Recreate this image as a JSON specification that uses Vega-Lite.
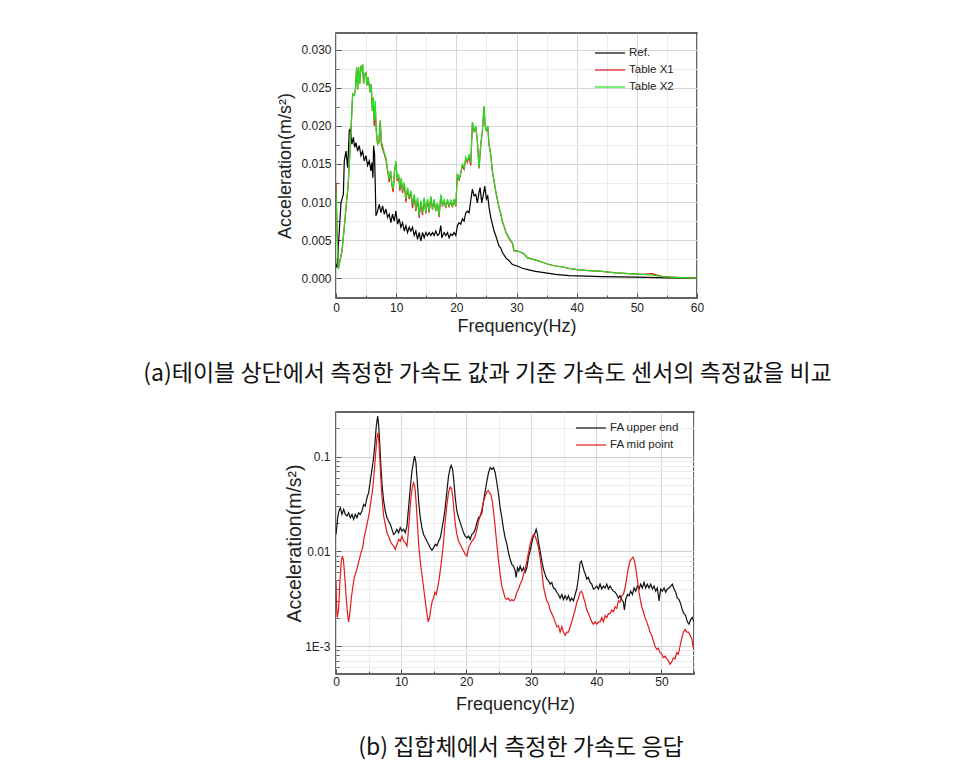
{
"$schema":"https://vega.github.io/schema/vega-lite/v6.json",
"background":"white",
"padding":{"left":142,"top":32,"right":5,"bottom":5},
"bounds":"flush",
"spacing":114,
"resolve":{"scale":{"color":"independent","x":"independent","y":"independent"},"legend":{"color":"independent"}},
"config":{
 "view":{"stroke":"#333","strokeWidth":1.5},
 "axis":{"domain":false,"labelFont":"Liberation Sans","labelFontSize":12,"labelColor":"#222","titleFont":"Liberation Sans","titleFontWeight":"normal","titleColor":"#222","tickColor":"#555","gridWidth":1},
 "legend":{"symbolType":"M-3,0H3","symbolSize":100,"symbolStrokeWidth":1.5,"labelFont":"Liberation Sans","labelFontSize":11.5,"labelColor":"#222","rowPadding":5,"labelOffset":13,"padding":0},
 "line":{"strokeWidth":1.2}
},
"datasets":{
 "aref":[
{"f":0,"v":0.0018},{"f":0.17,"v":0.0014},{"f":0.55,"v":0.0062},{"f":0.83,"v":0.0099},{"f":1.22,"v":0.011},{"f":1.38,"v":0.0154},{"f":1.66,"v":0.0167},{"f":1.94,"v":0.0145},{"f":2.21,"v":0.0194},{"f":2.38,"v":0.0196},{"f":2.65,"v":0.0176},{"f":2.88,"v":0.0185},{"f":3.1,"v":0.0172},{"f":3.32,"v":0.0178},{"f":3.59,"v":0.0167},{"f":3.87,"v":0.0174},{"f":4.15,"v":0.0161},{"f":4.42,"v":0.0167},{"f":4.7,"v":0.0154},{"f":4.98,"v":0.0161},{"f":5.25,"v":0.0148},{"f":5.53,"v":0.0154},{"f":5.81,"v":0.0141},{"f":5.97,"v":0.0152},{"f":6.14,"v":0.0132},{"f":6.25,"v":0.0174},{"f":6.41,"v":0.0163},{"f":6.64,"v":0.0082},{"f":6.91,"v":0.0088},{"f":7.19,"v":0.0097},{"f":7.47,"v":0.0086},{"f":7.74,"v":0.0095},{"f":8.02,"v":0.0084},{"f":8.29,"v":0.0091},{"f":8.57,"v":0.008},{"f":8.85,"v":0.0084},{"f":9.12,"v":0.0073},{"f":9.4,"v":0.0084},{"f":9.68,"v":0.0075},{"f":9.95,"v":0.0088},{"f":10.23,"v":0.0071},{"f":10.51,"v":0.0078},{"f":10.78,"v":0.0067},{"f":11.06,"v":0.0073},{"f":11.34,"v":0.0062},{"f":11.61,"v":0.0069},{"f":11.89,"v":0.006},{"f":12.17,"v":0.0067},{"f":12.44,"v":0.0062},{"f":12.72,"v":0.0067},{"f":13,"v":0.0056},{"f":13.27,"v":0.0062},{"f":13.55,"v":0.0051},{"f":13.83,"v":0.006},{"f":14.1,"v":0.0049},{"f":14.38,"v":0.006},{"f":14.65,"v":0.0053},{"f":14.93,"v":0.006},{"f":15.21,"v":0.0056},{"f":15.48,"v":0.006},{"f":15.76,"v":0.0056},{"f":16.04,"v":0.006},{"f":16.31,"v":0.0056},{"f":16.59,"v":0.0062},{"f":16.87,"v":0.0056},{"f":17.14,"v":0.0058},{"f":17.42,"v":0.0069},{"f":17.59,"v":0.0053},{"f":17.97,"v":0.006},{"f":18.25,"v":0.0056},{"f":18.53,"v":0.006},{"f":18.8,"v":0.0053},{"f":19.08,"v":0.0058},{"f":19.36,"v":0.0056},{"f":19.63,"v":0.006},{"f":19.91,"v":0.0056},{"f":20.18,"v":0.0069},{"f":20.46,"v":0.0073},{"f":20.74,"v":0.0071},{"f":21.01,"v":0.0078},{"f":21.29,"v":0.0075},{"f":21.57,"v":0.0086},{"f":21.84,"v":0.0088},{"f":22.12,"v":0.0086},{"f":22.4,"v":0.0102},{"f":22.67,"v":0.0117},{"f":22.95,"v":0.0108},{"f":23.23,"v":0.011},{"f":23.5,"v":0.0099},{"f":23.78,"v":0.0113},{"f":23.95,"v":0.0119},{"f":24.22,"v":0.0099},{"f":24.5,"v":0.011},{"f":24.72,"v":0.0121},{"f":25,"v":0.0104},{"f":25.22,"v":0.0108},{"f":25.44,"v":0.0093},{"f":25.72,"v":0.008},{"f":25.99,"v":0.0071},{"f":26.27,"v":0.0062},{"f":26.54,"v":0.0056},{"f":26.82,"v":0.0049},{"f":27.1,"v":0.0042},{"f":27.37,"v":0.004},{"f":27.65,"v":0.0034},{"f":28.2,"v":0.0027},{"f":28.76,"v":0.0023},{"f":29.31,"v":0.0018},{"f":30.14,"v":0.0016},{"f":30.97,"v":0.0013},{"f":32.07,"v":0.0011},{"f":33.18,"v":0.0009},{"f":34.84,"v":0.0007},{"f":36.5,"v":0.0005},{"f":38.71,"v":0.00035},{"f":41.48,"v":0.00026},{"f":44.24,"v":0.0002},{"f":49.77,"v":0.00013},{"f":55.3,"v":0.00004},{"f":60,"v":0}
 ],
 "atab":[
{"f":0,"Table X1":0.0126,"Table X2":0.0115},{"f":0.17,"Table X1":0.007,"Table X2":0.0062},{"f":0.39,"Table X1":0.0012,"Table X2":0.0012},{"f":0.66,"Table X1":0.0023,"Table X2":0.0023},{"f":1,"Table X1":0.0036,"Table X2":0.0036},{"f":1.38,"Table X1":0.0067,"Table X2":0.0067},{"f":1.77,"Table X1":0.0102,"Table X2":0.0102},{"f":1.99,"Table X1":0.0119,"Table X2":0.0119},{"f":2.21,"Table X1":0.015,"Table X2":0.015},{"f":2.49,"Table X1":0.0194,"Table X2":0.0194},{"f":2.77,"Table X1":0.0242,"Table X2":0.0242},{"f":3.04,"Table X1":0.024,"Table X2":0.024},{"f":3.21,"Table X1":0.0246,"Table X2":0.0246},{"f":3.43,"Table X1":0.0277,"Table X2":0.0277},{"f":3.59,"Table X1":0.0248,"Table X2":0.0248},{"f":3.76,"Table X1":0.0277,"Table X2":0.0277},{"f":3.93,"Table X1":0.0255,"Table X2":0.0255},{"f":4.15,"Table X1":0.0279,"Table X2":0.0279},{"f":4.31,"Table X1":0.0272,"Table X2":0.0272},{"f":4.42,"Table X1":0.0281,"Table X2":0.0281},{"f":4.59,"Table X1":0.0255,"Table X2":0.0255},{"f":4.76,"Table X1":0.0268,"Table X2":0.0268},{"f":4.98,"Table X1":0.027,"Table X2":0.027},{"f":5.14,"Table X1":0.0253,"Table X2":0.0253},{"f":5.31,"Table X1":0.0264,"Table X2":0.0264},{"f":5.53,"Table X1":0.0253,"Table X2":0.0253},{"f":5.7,"Table X1":0.0244,"Table X2":0.0244},{"f":5.86,"Table X1":0.0255,"Table X2":0.0255},{"f":6.03,"Table X1":0.022,"Table X2":0.022},{"f":6.19,"Table X1":0.0237,"Table X2":0.0237},{"f":6.36,"Table X1":0.02,"Table X2":0.0207},{"f":6.53,"Table X1":0.0225,"Table X2":0.0233},{"f":6.69,"Table X1":0.0194,"Table X2":0.0194},{"f":6.91,"Table X1":0.0176,"Table X2":0.0176},{"f":7.13,"Table X1":0.0178,"Table X2":0.018},{"f":7.36,"Table X1":0.0207,"Table X2":0.0207},{"f":7.52,"Table X1":0.0176,"Table X2":0.018},{"f":7.74,"Table X1":0.017,"Table X2":0.0174},{"f":8.02,"Table X1":0.0163,"Table X2":0.0165},{"f":8.29,"Table X1":0.0156,"Table X2":0.0159},{"f":8.57,"Table X1":0.0141,"Table X2":0.0143},{"f":8.85,"Table X1":0.0126,"Table X2":0.013},{"f":9.07,"Table X1":0.0141,"Table X2":0.0141},{"f":9.29,"Table X1":0.0122,"Table X2":0.0124},{"f":9.51,"Table X1":0.0113,"Table X2":0.0117},{"f":9.73,"Table X1":0.0141,"Table X2":0.0141},{"f":9.95,"Table X1":0.0152,"Table X2":0.0154},{"f":10.17,"Table X1":0.0128,"Table X2":0.013},{"f":10.4,"Table X1":0.0135,"Table X2":0.0137},{"f":10.62,"Table X1":0.0115,"Table X2":0.0119},{"f":10.84,"Table X1":0.013,"Table X2":0.0132},{"f":11.06,"Table X1":0.0112,"Table X2":0.0115},{"f":11.34,"Table X1":0.0124,"Table X2":0.0126},{"f":11.61,"Table X1":0.01,"Table X2":0.0104},{"f":11.89,"Table X1":0.0117,"Table X2":0.0119},{"f":12.17,"Table X1":0.0104,"Table X2":0.0106},{"f":12.44,"Table X1":0.0113,"Table X2":0.0115},{"f":12.72,"Table X1":0.0092,"Table X2":0.0097},{"f":13,"Table X1":0.0108,"Table X2":0.011},{"f":13.27,"Table X1":0.0088,"Table X2":0.0091},{"f":13.55,"Table X1":0.0104,"Table X2":0.0106},{"f":13.83,"Table X1":0.0079,"Table X2":0.0082},{"f":14.1,"Table X1":0.01,"Table X2":0.0102},{"f":14.38,"Table X1":0.0083,"Table X2":0.0086},{"f":14.65,"Table X1":0.0104,"Table X2":0.0106},{"f":14.93,"Table X1":0.0085,"Table X2":0.0086},{"f":15.21,"Table X1":0.0102,"Table X2":0.0104},{"f":15.48,"Table X1":0.0086,"Table X2":0.0088},{"f":15.76,"Table X1":0.0106,"Table X2":0.0108},{"f":16.04,"Table X1":0.009,"Table X2":0.0091},{"f":16.31,"Table X1":0.0102,"Table X2":0.0104},{"f":16.59,"Table X1":0.0088,"Table X2":0.0088},{"f":16.87,"Table X1":0.0098,"Table X2":0.0099},{"f":17.14,"Table X1":0.008,"Table X2":0.0082},{"f":17.42,"Table X1":0.0108,"Table X2":0.011},{"f":17.7,"Table X1":0.0094,"Table X2":0.0095},{"f":17.97,"Table X1":0.0102,"Table X2":0.0104},{"f":18.25,"Table X1":0.0092,"Table X2":0.0093},{"f":18.53,"Table X1":0.0102,"Table X2":0.0104},{"f":18.8,"Table X1":0.0094,"Table X2":0.0095},{"f":19.08,"Table X1":0.0101,"Table X2":0.0102},{"f":19.36,"Table X1":0.0093,"Table X2":0.0095},{"f":19.63,"Table X1":0.0103,"Table X2":0.0104},{"f":19.91,"Table X1":0.0094,"Table X2":0.0095},{"f":20.18,"Table X1":0.0137,"Table X2":0.0137},{"f":20.46,"Table X1":0.0128,"Table X2":0.013},{"f":20.74,"Table X1":0.0138,"Table X2":0.0139},{"f":21.01,"Table X1":0.0148,"Table X2":0.015},{"f":21.29,"Table X1":0.0143,"Table X2":0.0145},{"f":21.57,"Table X1":0.0157,"Table X2":0.0159},{"f":21.84,"Table X1":0.0152,"Table X2":0.0154},{"f":22.12,"Table X1":0.016,"Table X2":0.0163},{"f":22.4,"Table X1":0.0148,"Table X2":0.0152},{"f":22.67,"Table X1":0.0204,"Table X2":0.0205},{"f":22.95,"Table X1":0.0193,"Table X2":0.0194},{"f":23.23,"Table X1":0.0199,"Table X2":0.02},{"f":23.5,"Table X1":0.0179,"Table X2":0.018},{"f":23.78,"Table X1":0.0144,"Table X2":0.0145},{"f":24.06,"Table X1":0.0175,"Table X2":0.0176},{"f":24.33,"Table X1":0.0193,"Table X2":0.0194},{"f":24.61,"Table X1":0.0225,"Table X2":0.0226},{"f":24.77,"Table X1":0.0201,"Table X2":0.0202},{"f":25,"Table X1":0.0193,"Table X2":0.0194},{"f":25.22,"Table X1":0.0199,"Table X2":0.02},{"f":25.44,"Table X1":0.0175,"Table X2":0.0176},{"f":25.72,"Table X1":0.0162,"Table X2":0.0163},{"f":25.99,"Table X1":0.014,"Table X2":0.0141},{"f":26.27,"Table X1":0.0127,"Table X2":0.0128},{"f":26.54,"Table X1":0.0114,"Table X2":0.0115},{"f":26.82,"Table X1":0.0103,"Table X2":0.0104},{"f":27.1,"Table X1":0.0092,"Table X2":0.0093},{"f":27.37,"Table X1":0.0085,"Table X2":0.0086},{"f":27.65,"Table X1":0.0074,"Table X2":0.0075},{"f":27.93,"Table X1":0.0068,"Table X2":0.0069},{"f":28.2,"Table X1":0.0061,"Table X2":0.0062},{"f":28.76,"Table X1":0.0052,"Table X2":0.0053},{"f":29.31,"Table X1":0.0046,"Table X2":0.0047},{"f":29.59,"Table X1":0.0036,"Table X2":0.0036},{"f":30.14,"Table X1":0.0036,"Table X2":0.0036},{"f":30.69,"Table X1":0.0034,"Table X2":0.0034},{"f":31.24,"Table X1":0.0032,"Table X2":0.0032},{"f":31.8,"Table X1":0.0027,"Table X2":0.0027},{"f":32.63,"Table X1":0.0025,"Table X2":0.0025},{"f":33.46,"Table X1":0.0023,"Table X2":0.0023},{"f":34.29,"Table X1":0.0021,"Table X2":0.0021},{"f":35.39,"Table X1":0.0018,"Table X2":0.0018},{"f":36.5,"Table X1":0.0016,"Table X2":0.0016},{"f":37.6,"Table X1":0.0015,"Table X2":0.0015},{"f":38.71,"Table X1":0.0013,"Table X2":0.0013},{"f":40.37,"Table X1":0.0011,"Table X2":0.0011},{"f":42.03,"Table X1":0.001,"Table X2":0.001},{"f":44.24,"Table X1":0.0009,"Table X2":0.0009},{"f":46.45,"Table X1":0.0007,"Table X2":0.0007},{"f":48.66,"Table X1":0.0006,"Table X2":0.0006},{"f":50.88,"Table X1":0.0005,"Table X2":0.0005},{"f":52.54,"Table X1":0.0006,"Table X2":0.0004},{"f":54.2,"Table X1":0.0002,"Table X2":0.0002},{"f":56.41,"Table X1":0.0001,"Table X2":0.0001},{"f":60,"Table X1":0,"Table X2":0}
 ],
 "bu":[
{"f":0,"v":0.0151},{"f":0.26,"v":0.0227},{"f":0.46,"v":0.0267},{"f":0.67,"v":0.0289},{"f":0.92,"v":0.0246},{"f":1.18,"v":0.0278},{"f":1.43,"v":0.0246},{"f":1.69,"v":0.0236},{"f":1.94,"v":0.0256},{"f":2.2,"v":0.0227},{"f":2.46,"v":0.0246},{"f":2.71,"v":0.0218},{"f":2.97,"v":0.0246},{"f":3.22,"v":0.0227},{"f":3.48,"v":0.0256},{"f":3.73,"v":0.0246},{"f":3.99,"v":0.0267},{"f":4.25,"v":0.0313},{"f":4.5,"v":0.0301},{"f":4.76,"v":0.0369},{"f":5.01,"v":0.0417},{"f":5.27,"v":0.0554},{"f":5.53,"v":0.0735},{"f":5.78,"v":0.0976},{"f":5.99,"v":0.1405},{"f":6.19,"v":0.211},{"f":6.4,"v":0.269},{"f":6.55,"v":0.22},{"f":6.7,"v":0.146},{"f":6.91,"v":0.0766},{"f":7.11,"v":0.0471},{"f":7.32,"v":0.0341},{"f":7.57,"v":0.0267},{"f":7.83,"v":0.0227},{"f":8.08,"v":0.0209},{"f":8.34,"v":0.0193},{"f":8.6,"v":0.0171},{"f":8.85,"v":0.0151},{"f":9.11,"v":0.0157},{"f":9.36,"v":0.0171},{"f":9.62,"v":0.0157},{"f":9.87,"v":0.0178},{"f":10.13,"v":0.0164},{"f":10.39,"v":0.0171},{"f":10.64,"v":0.0157},{"f":10.9,"v":0.0185},{"f":11.15,"v":0.0289},{"f":11.41,"v":0.0471},{"f":11.67,"v":0.0706},{"f":11.92,"v":0.09},{"f":12.07,"v":0.1016},{"f":12.28,"v":0.0865},{"f":12.48,"v":0.0554},{"f":12.69,"v":0.0341},{"f":12.94,"v":0.0227},{"f":13.2,"v":0.0178},{"f":13.46,"v":0.0151},{"f":13.71,"v":0.0139},{"f":13.97,"v":0.0128},{"f":14.22,"v":0.0119},{"f":14.48,"v":0.0109},{"f":14.74,"v":0.0103},{"f":14.99,"v":0.0109},{"f":15.25,"v":0.0119},{"f":15.5,"v":0.0114},{"f":15.76,"v":0.0128},{"f":16.02,"v":0.0139},{"f":16.27,"v":0.0171},{"f":16.53,"v":0.0218},{"f":16.78,"v":0.0289},{"f":17.04,"v":0.0434},{"f":17.29,"v":0.0625},{"f":17.55,"v":0.0766},{"f":17.7,"v":0.0809},{"f":17.91,"v":0.0735},{"f":18.11,"v":0.0554},{"f":18.32,"v":0.0369},{"f":18.57,"v":0.0267},{"f":18.83,"v":0.0227},{"f":19.08,"v":0.0201},{"f":19.34,"v":0.0178},{"f":19.6,"v":0.0157},{"f":19.85,"v":0.0145},{"f":20.11,"v":0.0139},{"f":20.36,"v":0.0145},{"f":20.62,"v":0.0134},{"f":20.87,"v":0.0151},{"f":21.13,"v":0.0157},{"f":21.39,"v":0.0171},{"f":21.64,"v":0.0201},{"f":21.9,"v":0.0227},{"f":22.15,"v":0.0236},{"f":22.41,"v":0.0256},{"f":22.67,"v":0.0341},{"f":22.92,"v":0.0434},{"f":23.18,"v":0.0554},{"f":23.43,"v":0.0678},{"f":23.69,"v":0.0766},{"f":23.94,"v":0.0735},{"f":24.2,"v":0.0766},{"f":24.46,"v":0.0678},{"f":24.71,"v":0.0531},{"f":24.97,"v":0.04},{"f":25.22,"v":0.0289},{"f":25.48,"v":0.0227},{"f":25.74,"v":0.0171},{"f":25.99,"v":0.0139},{"f":26.25,"v":0.0119},{"f":26.5,"v":0.0097},{"f":26.76,"v":0.0082},{"f":27.01,"v":0.0073},{"f":27.27,"v":0.007},{"f":27.53,"v":0.0062},{"f":27.68,"v":0.0053},{"f":27.88,"v":0.0067},{"f":28.09,"v":0.0062},{"f":28.29,"v":0.007},{"f":28.55,"v":0.0062},{"f":28.81,"v":0.0067},{"f":29.06,"v":0.006},{"f":29.32,"v":0.0067},{"f":29.57,"v":0.0086},{"f":29.83,"v":0.0101},{"f":30.08,"v":0.0124},{"f":30.34,"v":0.0145},{"f":30.6,"v":0.0157},{"f":30.75,"v":0.0171},{"f":30.95,"v":0.0151},{"f":31.16,"v":0.0119},{"f":31.36,"v":0.0101},{"f":31.62,"v":0.0079},{"f":31.87,"v":0.0065},{"f":32.13,"v":0.0057},{"f":32.39,"v":0.0051},{"f":32.64,"v":0.0049},{"f":32.9,"v":0.0045},{"f":33.15,"v":0.0047},{"f":33.41,"v":0.0041},{"f":33.67,"v":0.004},{"f":33.92,"v":0.0037},{"f":34.18,"v":0.0035},{"f":34.43,"v":0.0032},{"f":34.69,"v":0.0035},{"f":34.94,"v":0.0031},{"f":35.2,"v":0.0034},{"f":35.46,"v":0.0031},{"f":35.71,"v":0.0034},{"f":35.97,"v":0.003},{"f":36.22,"v":0.0032},{"f":36.48,"v":0.003},{"f":36.74,"v":0.0035},{"f":36.99,"v":0.004},{"f":37.25,"v":0.0053},{"f":37.5,"v":0.0076},{"f":37.71,"v":0.0079},{"f":37.91,"v":0.007},{"f":38.12,"v":0.0062},{"f":38.32,"v":0.0057},{"f":38.53,"v":0.0051},{"f":38.78,"v":0.0053},{"f":39.04,"v":0.0047},{"f":39.29,"v":0.0045},{"f":39.55,"v":0.004},{"f":39.81,"v":0.0041},{"f":40.06,"v":0.0043},{"f":40.32,"v":0.004},{"f":40.57,"v":0.0045},{"f":40.83,"v":0.004},{"f":41.08,"v":0.0043},{"f":41.34,"v":0.0041},{"f":41.6,"v":0.0045},{"f":41.85,"v":0.004},{"f":42.11,"v":0.0043},{"f":42.36,"v":0.004},{"f":42.62,"v":0.0038},{"f":42.88,"v":0.0037},{"f":43.13,"v":0.0035},{"f":43.39,"v":0.0032},{"f":43.64,"v":0.0034},{"f":43.9,"v":0.0031},{"f":44.15,"v":0.0029},{"f":44.31,"v":0.0024},{"f":44.51,"v":0.0031},{"f":44.77,"v":0.0035},{"f":45.02,"v":0.0034},{"f":45.28,"v":0.0038},{"f":45.54,"v":0.0035},{"f":45.79,"v":0.0041},{"f":46.05,"v":0.0038},{"f":46.3,"v":0.0043},{"f":46.56,"v":0.004},{"f":46.81,"v":0.0045},{"f":47.07,"v":0.0041},{"f":47.33,"v":0.0047},{"f":47.58,"v":0.0041},{"f":47.84,"v":0.0045},{"f":48.09,"v":0.0041},{"f":48.35,"v":0.0045},{"f":48.61,"v":0.004},{"f":48.86,"v":0.0043},{"f":49.12,"v":0.0038},{"f":49.37,"v":0.0041},{"f":49.63,"v":0.003},{"f":49.88,"v":0.004},{"f":50.14,"v":0.0038},{"f":50.4,"v":0.0041},{"f":50.65,"v":0.0037},{"f":50.91,"v":0.004},{"f":51.16,"v":0.0041},{"f":51.42,"v":0.0043},{"f":51.68,"v":0.0045},{"f":51.93,"v":0.004},{"f":52.19,"v":0.0037},{"f":52.44,"v":0.0032},{"f":52.7,"v":0.0031},{"f":52.95,"v":0.0028},{"f":53.21,"v":0.0024},{"f":53.47,"v":0.0022},{"f":53.72,"v":0.0021},{"f":53.98,"v":0.0018},{"f":54.23,"v":0.0017},{"f":54.49,"v":0.0019},{"f":54.74,"v":0.002},{"f":55,"v":0.0018}
 ],
 "bm":[
{"f":0,"v":0.0049},{"f":0.1,"v":0.0025},{"f":0.2,"v":0.002},{"f":0.41,"v":0.0025},{"f":0.61,"v":0.0049},{"f":0.82,"v":0.0079},{"f":0.97,"v":0.0089},{"f":1.13,"v":0.0082},{"f":1.33,"v":0.0057},{"f":1.53,"v":0.0035},{"f":1.74,"v":0.0023},{"f":1.94,"v":0.0018},{"f":2.15,"v":0.0023},{"f":2.35,"v":0.0032},{"f":2.56,"v":0.0041},{"f":2.81,"v":0.0053},{"f":3.07,"v":0.006},{"f":3.33,"v":0.007},{"f":3.58,"v":0.0082},{"f":3.84,"v":0.0097},{"f":4.09,"v":0.0109},{"f":4.35,"v":0.0145},{"f":4.6,"v":0.0171},{"f":4.86,"v":0.0209},{"f":5.12,"v":0.0256},{"f":5.37,"v":0.0341},{"f":5.63,"v":0.0452},{"f":5.83,"v":0.0625},{"f":6.04,"v":0.0976},{"f":6.24,"v":0.146},{"f":6.4,"v":0.179},{"f":6.55,"v":0.159},{"f":6.7,"v":0.106},{"f":6.91,"v":0.0554},{"f":7.11,"v":0.0341},{"f":7.32,"v":0.0236},{"f":7.57,"v":0.0193},{"f":7.83,"v":0.0157},{"f":8.08,"v":0.0145},{"f":8.34,"v":0.0128},{"f":8.6,"v":0.0119},{"f":8.85,"v":0.0114},{"f":9.11,"v":0.0105},{"f":9.36,"v":0.0119},{"f":9.62,"v":0.0134},{"f":9.87,"v":0.0128},{"f":10.13,"v":0.0145},{"f":10.39,"v":0.0128},{"f":10.64,"v":0.0124},{"f":10.9,"v":0.0114},{"f":11.1,"v":0.0157},{"f":11.31,"v":0.0246},{"f":11.51,"v":0.0369},{"f":11.72,"v":0.0471},{"f":11.92,"v":0.0531},{"f":12.13,"v":0.0471},{"f":12.33,"v":0.0313},{"f":12.54,"v":0.0178},{"f":12.74,"v":0.0109},{"f":12.94,"v":0.0079},{"f":13.2,"v":0.0057},{"f":13.46,"v":0.0041},{"f":13.71,"v":0.003},{"f":13.97,"v":0.0022},{"f":14.17,"v":0.0018},{"f":14.38,"v":0.002},{"f":14.58,"v":0.0025},{"f":14.79,"v":0.003},{"f":14.99,"v":0.0032},{"f":15.2,"v":0.0037},{"f":15.4,"v":0.0035},{"f":15.6,"v":0.0041},{"f":15.81,"v":0.0049},{"f":16.01,"v":0.0062},{"f":16.27,"v":0.0086},{"f":16.53,"v":0.0128},{"f":16.78,"v":0.0209},{"f":17.04,"v":0.0313},{"f":17.29,"v":0.0417},{"f":17.55,"v":0.0479},{"f":17.75,"v":0.0463},{"f":17.96,"v":0.0369},{"f":18.16,"v":0.0256},{"f":18.37,"v":0.0185},{"f":18.57,"v":0.0151},{"f":18.83,"v":0.0128},{"f":19.08,"v":0.0119},{"f":19.34,"v":0.0109},{"f":19.6,"v":0.0101},{"f":19.85,"v":0.0093},{"f":20.11,"v":0.0089},{"f":20.36,"v":0.0109},{"f":20.62,"v":0.0119},{"f":20.87,"v":0.0128},{"f":21.13,"v":0.0134},{"f":21.39,"v":0.0145},{"f":21.64,"v":0.0171},{"f":21.9,"v":0.0209},{"f":22.15,"v":0.0236},{"f":22.41,"v":0.0278},{"f":22.67,"v":0.0341},{"f":22.92,"v":0.0384},{"f":23.18,"v":0.0427},{"f":23.38,"v":0.0441},{"f":23.59,"v":0.0417},{"f":23.79,"v":0.04},{"f":24,"v":0.0341},{"f":24.2,"v":0.0267},{"f":24.46,"v":0.0178},{"f":24.71,"v":0.0119},{"f":24.97,"v":0.0079},{"f":25.22,"v":0.0057},{"f":25.48,"v":0.0043},{"f":25.74,"v":0.0037},{"f":25.99,"v":0.0032},{"f":26.25,"v":0.0031},{"f":26.5,"v":0.0032},{"f":26.76,"v":0.003},{"f":27.01,"v":0.0031},{"f":27.27,"v":0.003},{"f":27.53,"v":0.0032},{"f":27.78,"v":0.0037},{"f":28.04,"v":0.004},{"f":28.29,"v":0.0045},{"f":28.55,"v":0.0049},{"f":28.81,"v":0.0057},{"f":29.06,"v":0.0065},{"f":29.32,"v":0.0079},{"f":29.57,"v":0.0097},{"f":29.83,"v":0.0119},{"f":30.08,"v":0.0139},{"f":30.34,"v":0.0151},{"f":30.6,"v":0.0145},{"f":30.85,"v":0.0128},{"f":31.11,"v":0.0109},{"f":31.36,"v":0.0086},{"f":31.62,"v":0.0062},{"f":31.87,"v":0.0043},{"f":32.13,"v":0.0035},{"f":32.39,"v":0.003},{"f":32.64,"v":0.0028},{"f":32.9,"v":0.0024},{"f":33.15,"v":0.0022},{"f":33.41,"v":0.002},{"f":33.67,"v":0.0018},{"f":33.92,"v":0.0016},{"f":34.18,"v":0.00163},{"f":34.43,"v":0.0014},{"f":34.69,"v":0.0016},{"f":34.94,"v":0.0014},{"f":35.2,"v":0.0013},{"f":35.46,"v":0.0014},{"f":35.71,"v":0.0014},{"f":35.97,"v":0.0016},{"f":36.22,"v":0.0018},{"f":36.48,"v":0.0021},{"f":36.74,"v":0.0024},{"f":36.99,"v":0.0029},{"f":37.25,"v":0.0032},{"f":37.5,"v":0.0037},{"f":37.71,"v":0.0038},{"f":37.91,"v":0.0035},{"f":38.12,"v":0.0031},{"f":38.32,"v":0.0028},{"f":38.53,"v":0.0024},{"f":38.78,"v":0.0022},{"f":39.04,"v":0.002},{"f":39.29,"v":0.0018},{"f":39.55,"v":0.0017},{"f":39.81,"v":0.0018},{"f":40.06,"v":0.0017},{"f":40.32,"v":0.0018},{"f":40.57,"v":0.0018},{"f":40.83,"v":0.002},{"f":41.08,"v":0.0018},{"f":41.34,"v":0.0021},{"f":41.6,"v":0.002},{"f":41.85,"v":0.0022},{"f":42.11,"v":0.0022},{"f":42.36,"v":0.0024},{"f":42.62,"v":0.0023},{"f":42.88,"v":0.0026},{"f":43.13,"v":0.0025},{"f":43.39,"v":0.003},{"f":43.64,"v":0.0029},{"f":43.9,"v":0.0034},{"f":44.15,"v":0.0035},{"f":44.41,"v":0.0041},{"f":44.67,"v":0.0053},{"f":44.92,"v":0.0067},{"f":45.18,"v":0.0079},{"f":45.43,"v":0.0084},{"f":45.64,"v":0.0087},{"f":45.84,"v":0.008},{"f":46.05,"v":0.0067},{"f":46.25,"v":0.0053},{"f":46.46,"v":0.0041},{"f":46.71,"v":0.0032},{"f":46.97,"v":0.0026},{"f":47.22,"v":0.0023},{"f":47.48,"v":0.002},{"f":47.74,"v":0.0018},{"f":47.99,"v":0.0016},{"f":48.25,"v":0.0014},{"f":48.5,"v":0.0013},{"f":48.76,"v":0.00113},{"f":49.01,"v":0.001},{"f":49.27,"v":0.00092},{"f":49.53,"v":0.00095},{"f":49.78,"v":0.00085},{"f":50.04,"v":0.00082},{"f":50.29,"v":0.00075},{"f":50.55,"v":0.00078},{"f":50.81,"v":0.00073},{"f":51.06,"v":0.0007},{"f":51.32,"v":0.00064},{"f":51.58,"v":0.00068},{"f":51.83,"v":0.00075},{"f":52.09,"v":0.00073},{"f":52.34,"v":0.00085},{"f":52.6,"v":0.00082},{"f":52.86,"v":0.001},{"f":53.11,"v":0.0012},{"f":53.37,"v":0.0014},{"f":53.62,"v":0.0015},{"f":53.88,"v":0.0014},{"f":54.14,"v":0.0014},{"f":54.39,"v":0.0013},{"f":54.65,"v":0.0012},{"f":54.9,"v":0.00095},{"f":55,"v":0.00092}
 ]
},
"vconcat":[
 {
  "width":361,"height":265,
  "title":{"text":"(a)테이블 상단에서 측정한 가속도 값과 기준 가속도 센서의 측정값을 비교","orient":"bottom","anchor":"middle","frame":"group","dx":-29,"offset":28,"font":"Noto Sans CJK KR","fontSize":23,"fontWeight":"normal","color":"#111"},
  "encoding":{
   "x":{"field":"f","type":"quantitative","scale":{"domain":[0,60],"nice":false,"zero":false},
     "axis":{"title":"Frequency(Hz)","titleFontSize":18,"titlePadding":4,"labelPadding":9,"values":[0,5,10,15,20,25,30,35,40,45,50,55,60],
      "labelExpr":"datum.value % 10 === 0 ? datum.label : ''","labelFlush":false,
      "gridColor":{"condition":{"test":"datum.value % 10 === 0","value":"#d6d6d6"},"value":"#ececec"},
      "tickSize":{"condition":{"test":"datum.value % 10 === 0","value":-5},"value":-3}}},
   "y":{"field":"v","type":"quantitative","scale":{"domain":[-0.0026,0.0322],"nice":false,"zero":false},
     "axis":{"title":"Acceleration(m/s²)","titleFontSize":18,"titlePadding":6,"labelPadding":10,"minExtent":36,"maxExtent":36,
      "values":[0,0.0025,0.005,0.0075,0.01,0.0125,0.015,0.0175,0.02,0.0225,0.025,0.0275,0.03],
      "labelExpr":"round(datum.value*10000) % 50 === 0 ? format(datum.value, '.3f') : ''",
      "gridColor":{"condition":{"test":"round(datum.value*10000) % 50 === 0","value":"#d6d6d6"},"value":"#ececec"},
      "tickSize":{"condition":{"test":"round(datum.value*10000) % 50 === 0","value":-5},"value":-3}}}
  },
  "layer":[
   {"data":{"name":"aref"},"mark":{"type":"line","clip":true},
    "encoding":{"color":{"datum":"Ref.","type":"nominal"}}},
   {"data":{"name":"atab"},"transform":[{"fold":["Table X1","Table X2"],"as":["k","v"]}],
    "mark":{"type":"line","clip":true},
    "encoding":{"color":{"field":"k","type":"nominal",
      "scale":{"domain":["Ref.","Table X1","Table X2"],"range":["#000000","#e3141c","#22e022"]},
      "legend":{"title":null,"orient":"none","legendX":268,"legendY":14}}}}
  ]
 },
 {
  "width":358,"height":262,
  "title":{"text":"(b) 집합체에서 측정한 가속도 응답","orient":"bottom","anchor":"middle","frame":"group","dx":6,"offset":24,"font":"Noto Sans CJK KR","fontSize":23,"fontWeight":"normal","color":"#111"},
  "encoding":{
   "x":{"field":"f","type":"quantitative","scale":{"domain":[0,55],"nice":false,"zero":false},
     "axis":{"title":"Frequency(Hz)","titleFontSize":18,"titlePadding":8,"labelPadding":7,"values":[0,5,10,15,20,25,30,35,40,45,50,55],
      "labelExpr":"datum.value % 10 === 0 ? datum.label : ''","labelFlush":false,
      "gridColor":{"condition":{"test":"datum.value % 10 === 0","value":"#d6d6d6"},"value":"#ececec"},
      "tickSize":{"condition":{"test":"datum.value % 10 === 0","value":-5},"value":-3}}},
   "y":{"field":"v","type":"quantitative","scale":{"type":"log","domain":[0.000506,0.297],"nice":false},
     "axis":{"title":"Acceleration(m/s²)","titleFontSize":19.5,"titlePadding":0,"labelPadding":11,"minExtent":32,"maxExtent":32,
      "values":[0.0006,0.0007,0.0008,0.0009,0.001,0.002,0.003,0.004,0.005,0.006,0.007,0.008,0.009,0.01,0.02,0.03,0.04,0.05,0.06,0.07,0.08,0.09,0.1,0.2],
      "labelExpr":"datum.value == 0.1 ? '0.1' : datum.value == 0.01 ? '0.01' : datum.value == 0.001 ? '1E-3' : ''",
      "gridColor":{"condition":{"test":"datum.value == 0.1 || datum.value == 0.01 || datum.value == 0.001","value":"#d0d0d0"},"value":"#ececec"},
      "tickSize":{"condition":{"test":"datum.value == 0.1 || datum.value == 0.01 || datum.value == 0.001","value":-5},"value":-3}}}
  },
  "layer":[
   {"data":{"name":"bu"},"mark":{"type":"line","clip":true},
    "encoding":{"color":{"datum":"FA upper end","type":"nominal",
      "scale":{"domain":["FA upper end","FA mid point"],"range":["#111111","#e31a1c"]},
      "legend":{"title":null,"orient":"none","legendX":249,"legendY":10}}}},
   {"data":{"name":"bm"},"mark":{"type":"line","clip":true},
    "encoding":{"color":{"datum":"FA mid point","type":"nominal"}}}
  ]
 }
]
}
